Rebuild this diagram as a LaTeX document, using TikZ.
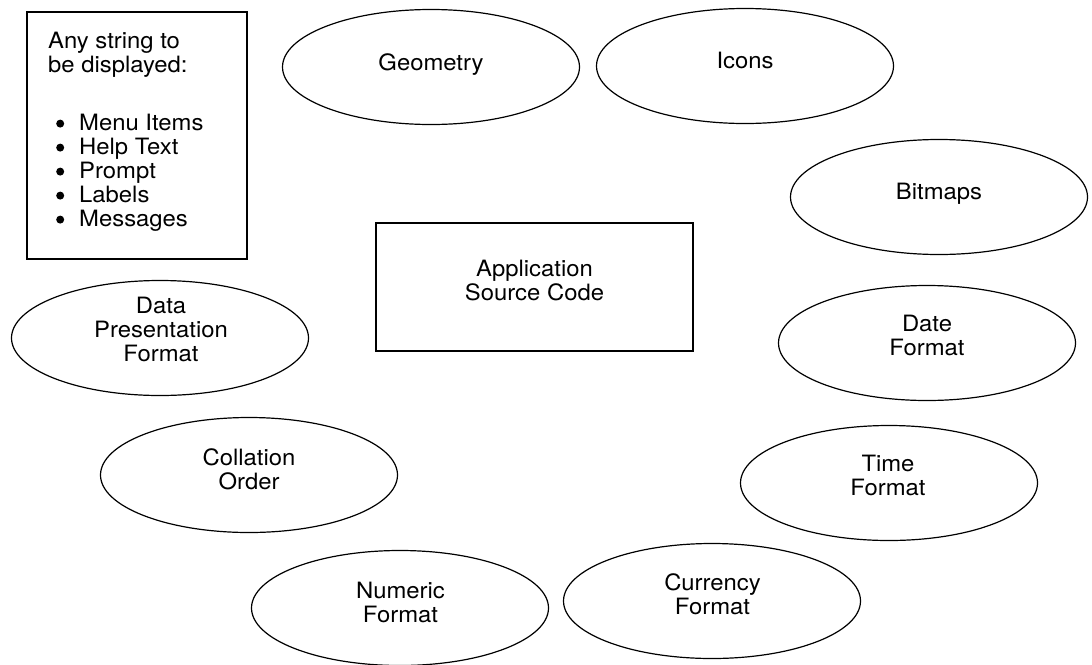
\documentclass[tikz,border=0pt]{standalone}
\usepackage{fontspec}
\setmainfont{TeX Gyre Heros}[FakeStretch=1.06]
\usetikzlibrary{shapes.geometric}
\newcommand{\bulletdot}{\makebox[23pt][l]{\tikz[baseline=0pt,x=1pt,y=1pt]\fill (4pt,7pt) circle (4pt);}}
\begin{document}
\begin{tikzpicture}[x=1pt,y=-1pt,
  oval/.style={draw,ellipse,line width=1.2pt,minimum width=297pt,minimum height=115pt,inner sep=0pt},
  frame/.style={draw,rectangle,line width=1.3pt,inner sep=0pt},
  lbl/.style={align=center,inner sep=0pt,anchor=north,font=\fontsize{22.5}{24}\selectfont},
  ltxt/.style={align=left,inner sep=0pt,anchor=north west,font=\fontsize{22.5}{24}\selectfont},
]
\useasboundingbox (0,0) rectangle (1092,664);
% boxes
\node[frame,minimum width=220pt,minimum height=247pt] (strbox) at (137,135.5) {};
\node[frame,minimum width=317pt,minimum height=128pt] (app) at (534.5,287) {};
% ellipses
\node[oval] (geo) at (431,67) {};
\node[oval] (icons) at (745,66) {};
\node[oval] (bitmaps) at (939,197) {};
\node[oval] (datapres) at (160,338) {};
\node[oval] (date) at (927,343) {};
\node[oval] (coll) at (249,475) {};
\node[oval] (time) at (889,483) {};
\node[oval] (num) at (400,608) {};
\node[oval] (cur) at (712,601) {};
% texts
\node[ltxt] (strhead) at (48,32) {Any string to\\be displayed:};
\node[ltxt] (strlist) at (56,114) {%
\bulletdot Menu Items\\
\bulletdot Help Text\\
\bulletdot Prompt\\
\bulletdot Labels\\
\bulletdot Messages};
\node[lbl] (apptxt) at (534.5,260) {Application\\Source Code};
\node[lbl] (geotxt) at (431,53) {Geometry};
\node[lbl] (iconstxt) at (745,52) {Icons};
\node[lbl] (bitmapstxt) at (939,183) {Bitmaps};
\node[lbl] (datapretxt) at (161,297) {Data\\Presentation\\Format};
\node[lbl] (datetxt) at (927,315) {Date\\Format};
\node[lbl] (colltxt) at (249,448) {Collation\\Order};
\node[lbl] (timetxt) at (888,455) {Time\\Format};
\node[lbl] (numtxt) at (400.5,582) {Numeric\\Format};
\node[lbl] (curtxt) at (712.5,573) {Currency\\Format};
\end{tikzpicture}
\end{document}
